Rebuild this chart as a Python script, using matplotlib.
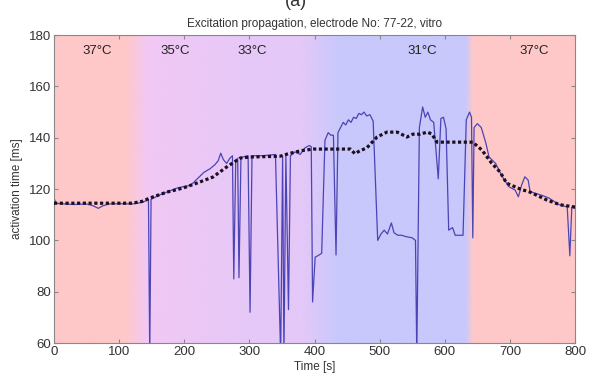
import numpy as np
import matplotlib
matplotlib.use("Agg")
import matplotlib.pyplot as plt
from matplotlib.colors import to_rgb

plt.rcParams['font.family'] = ['Liberation Sans', 'DejaVu Sans']

# measured activation time (thin blue line)
t_raw = [0, 3, 10, 30, 50, 60, 68, 75, 85, 100, 120, 135, 145, 147, 149,
         160, 170, 180, 190, 200, 210, 220, 230, 240, 247, 252, 256, 260, 265, 270, 274,
         276, 279, 282, 284, 287, 290, 298, 301, 304, 320, 340,
         348, 351, 353, 356, 360, 363, 370, 378, 385, 392, 395, 397, 401, 405, 411,
         416, 421, 425, 429, 433, 436, 440, 444, 448, 452, 456, 460, 464, 468, 472,
         476, 480, 485, 490, 497, 502, 507, 512, 518, 522, 528, 534, 540, 550, 555,
         557, 561, 566, 570, 574, 578, 583, 590, 594, 598, 602, 606, 612, 616, 620,
         628, 633, 638, 641, 643, 645, 650, 656, 663, 668, 678, 688, 698, 708, 713,
         718, 723, 728, 731, 740, 750, 760, 775, 788, 792, 795, 800]
v_raw = [116.5, 114.5, 114.3, 114.0, 114.2, 113.5, 112.5, 113.5, 114.2, 114.3, 114.2, 114.8, 115.8, 55, 116,
         117.5, 118.5, 119.5, 120.5, 121, 121.5, 124, 126.5, 128, 129.5, 131, 134, 131.5, 130, 132, 133,
         85, 131, 132, 85.5, 132, 132.5, 133, 72, 133, 133, 133.5,
         55, 133, 55, 133, 73, 133, 134.5, 133.5, 136, 137, 136.5, 76, 93.5, 94, 95,
         139, 142, 141, 141, 94.3, 142, 144, 146, 145, 147, 146, 148, 147.5, 149.5, 149,
         150, 148.5, 149, 146.5, 100, 102.5, 104, 102.5, 106.8, 103, 102, 102, 101.5, 101, 100,
         55, 144, 152, 148, 150, 147, 146, 124, 147.5, 148, 143.5, 104, 105, 102, 102,
         102, 147, 150, 148, 101, 144, 145.5, 144, 138, 132.5, 130, 125, 121, 119.6, 117,
         121.6, 124.8, 123.5, 119, 118.3, 117.5, 116.5, 114, 113, 94, 113, 112.5]

# smoothed activation time (black dotted line)
t_fit = [0, 120, 135, 147, 173, 198, 219, 244, 265, 286, 300, 347, 360, 380, 398,
         455, 462, 470, 480, 496, 511, 527, 542, 551, 562, 573, 580, 588, 643, 657,
         672, 685, 695, 716, 731, 757, 777, 800]
v_fit = [114.5, 114.5, 115.2, 116.5, 118.8, 120.4, 122.3, 124.7, 128.6, 132.1, 132.5, 132.8, 133.8, 135, 135.6,
         135.6, 133.8, 135, 136, 140.3, 142.2, 142.2, 140.3, 141.4, 141.4, 142.2, 141.5, 138.3, 138.3, 135.2,
         130.1, 126.6, 122.3, 120, 118.8, 115.7, 113.9, 113]

temp_labels = ['37°C', '35°C', '33°C', '31°C', '37°C']
temp_pos = [66, 186, 305, 565, 738]

# background colour stops (time, colour)
bg_t = [0, 109, 143, 210, 300, 378, 439, 631, 643, 800]
bg_c = ['#ffc8c8', '#ffc8c8', '#f2c8f4', '#ecc8f6', '#e6c8f8', '#e4c8f8',
        '#c8c8fc', '#c8c8fc', '#ffc8c8', '#ffc8c8']

fig = plt.figure(figsize=(5.91, 3.82), dpi=100)
ax = fig.add_axes([0.0914, 0.102, 0.8816, 0.806])

xs = np.linspace(0, 800, 801)
rgb = np.array([to_rgb(c) for c in bg_c])
grad = np.stack([np.interp(xs, bg_t, rgb[:, i]) for i in range(3)], axis=-1)[None, :, :]
ax.imshow(grad, extent=[0, 800, 60, 180], aspect='auto', origin='lower', zorder=0)

ax.plot(t_raw, v_raw, color='#4b44b4', lw=0.9, zorder=2)
ax.plot(t_fit, v_fit, color='#1a1020', lw=2.3, linestyle=(0, (1.0, 0.8)), zorder=3)

for lab, x in zip(temp_labels, temp_pos):
    ax.text(x, 174, lab, ha='center', va='center', fontsize=9.5, color='#222222')

ax.set_xlim(0, 800)
ax.set_ylim(60, 180)
ax.set_xticks(range(0, 801, 100))
ax.set_yticks(range(60, 181, 20))
ax.tick_params(direction='in', top=True, right=True, labelsize=9.5, length=3,
               color='#888888', labelcolor='#333333', pad=2)
for s in ax.spines.values():
    s.set_color('#888888')
    s.set_linewidth(0.8)

ax.set_xlabel('Time [s]', fontsize=8.5, color='#333333', labelpad=2)
ax.set_ylabel('activation time [ms]', fontsize=8.5, color='#333333', labelpad=4)
ax.set_title('Excitation propagation, electrode No: 77-22, vitro', fontsize=8.5,
             color='#333333', pad=6)
fig.text(0.5, 0.995, '(a)', ha='center', va='center', fontsize=13, color='#333333')

fig.savefig('out.png', dpi=100)
